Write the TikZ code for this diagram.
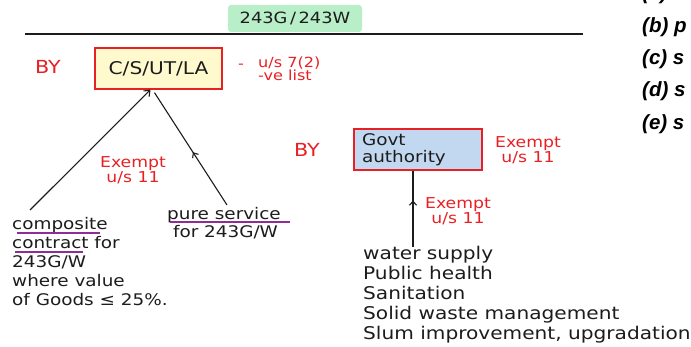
\documentclass[tikz,border=0pt]{standalone}
\usepackage{fontspec}
\newfontfamily\handfont{DejaVu Sans}[FakeStretch=1.15]
\newfontfamily\listfont{Liberation Sans}
\usetikzlibrary{arrows.meta,decorations.markings}
\definecolor{penred}{RGB}{232,32,36}
\definecolor{ink}{RGB}{28,28,28}
\definecolor{underpurple}{RGB}{142,44,152}
\definecolor{padyellow}{RGB}{255,250,206}
\definecolor{padblue}{RGB}{194,216,240}
\definecolor{padgreen}{RGB}{184,238,200}

\begin{document}
\begin{tikzpicture}[
  x=1pt, y=-1pt,
  every node/.style={inner sep=0pt},
  hand/.style={font=\handfont\fontsize{16}{19}\selectfont, align=left, text=ink},
  redhand/.style={font=\handfont\fontsize{15}{15.5}\selectfont, align=center, text=penred},
  bylabel/.style={font=\handfont\fontsize{18}{20}\selectfont, text=penred},
  keybox/.style={draw=penred, line width=1.3pt, minimum width=127pt, minimum height=41pt},
  listitem/.style={font=\listfont\bfseries\itshape\fontsize{20.5}{22}\selectfont, anchor=west},
  pen/.style={draw=ink, line width=1.1pt},
  tip/.style={-{Straight Barb[length=5pt,width=8pt]}},
  mid arrow/.style={postaction={decorate}, decoration={markings,
    mark=at position #1 with {\arrow{Straight Barb[length=4pt,width=7pt]}}}},
  mid arrow/.default=0.5
]
\useasboundingbox (0,0) rectangle (691,347);
\clip (0,0) rectangle (691,347);

% ── heading ─────────────────────────────────────────────────────────
\node[fill=padgreen, rounded corners=3pt, minimum width=134pt, minimum height=27pt,
      font=\handfont\fontsize{15.5}{17}\selectfont, text=ink] (title) at (295,18.5)
  {243G\,/\,243W};
\draw[line width=1.4pt, ink] (25,34) -- (583,34);

% ── right margin list (cut off) ─────────────────────────────────────
\node[listitem] (la) at (642,-6) {(a)};
\node[listitem] (lb) at (642,27) {(b) p};
\node[listitem] (lc) at (642,59) {(c) s};
\node[listitem] (ld) at (642,91) {(d) s};
\node[listitem] (le) at (642,124) {(e) s};

% ── left branch: C/S/UT/LA ──────────────────────────────────────────
\node[bylabel] (by1) at (48,67) {BY};
\node[keybox, fill=padyellow, font=\handfont\fontsize{17.5}{19}\selectfont, text=ink]
  (csbox) at (158.5,68.5) {C/S/UT/LA};
\node[font=\handfont\fontsize{14}{15}\selectfont, text=penred] (dash) at (241,66) {-};
\node[redhand, font=\handfont\fontsize{14}{13.5}\selectfont, align=left, anchor=west]
  (neglist) at (258,69) {u/s 7(2)\\-ve list};

\node[hand, anchor=north west] (comp) at (12,217)
  {composite\\contract for\\243G/W\\where value\\of Goods ≤ 25\%.};
\node[hand, anchor=north west, font=\handfont\fontsize{16}{18}\selectfont] (pure) at (167,207)
  {pure service\\\ for 243G/W};
\draw[underpurple, line width=1.3pt] (17,233) -- (100,233);
\draw[underpurple, line width=1.3pt] (15,252) -- (83,252);
\draw[underpurple, line width=1.3pt] (170,222) -- (290,222);

\coordinate (compTop) at (30,210);
\coordinate (pureTop) at (227,205);
\draw[pen, tip] (compTop) -- ([xshift=-8pt]csbox.south);
\draw[pen, mid arrow=0.47] (pureTop) -- ([xshift=-4pt,yshift=-3pt]csbox.south);
\node[redhand] (ex1) at (133,170) {Exempt\\u/s 11};

% ── right branch: Govt authority ────────────────────────────────────
\node[bylabel] (by2) at (307,150) {BY};
\node[keybox, fill=padblue, minimum width=128pt, text width=112pt, align=left,
      font=\handfont\fontsize{16}{16.5}\selectfont, text=ink]
  (govt) at (418,149.5) {Govt\\authority};
\node[redhand] (ex2) at (528,150) {Exempt\\u/s 11};

\node[hand, anchor=north west, font=\handfont\fontsize{17.5}{20}\selectfont] (water) at (363,246)
  {water supply\\Public health\\Sanitation\\Solid waste management\\Slum improvement, upgradation};
\coordinate (waterTop) at (413,247);
\draw[pen, mid arrow=0.61] (waterTop) -- ([xshift=-5pt]govt.south);
\node[redhand] (ex3) at (458,211) {Exempt\\u/s 11};

\end{tikzpicture}
\end{document}
